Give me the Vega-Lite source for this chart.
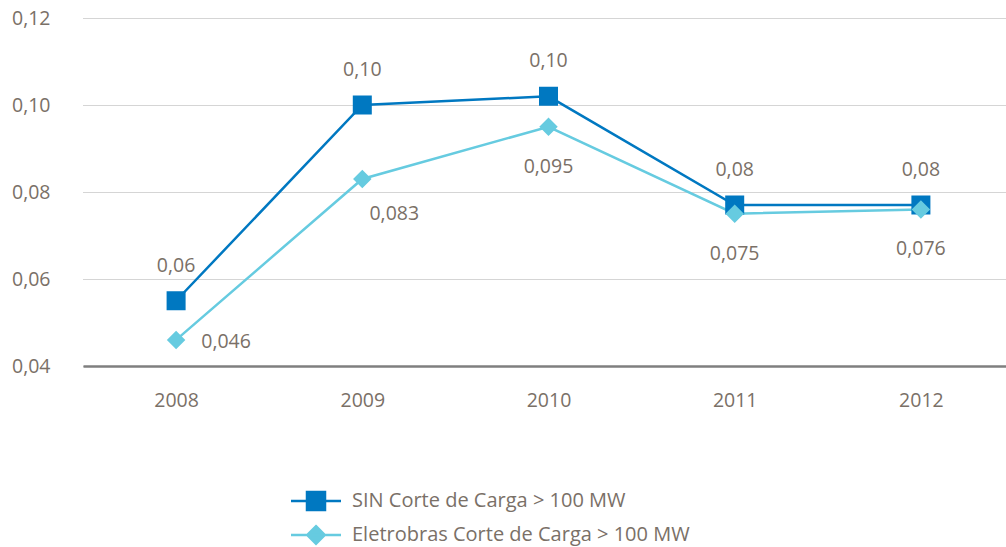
{
  "$schema": "https://vega.github.io/schema/vega-lite/v6.json",
  "width": 923,
  "height": 348,
  "autosize": "none",
  "padding": {"left": 83, "top": 18, "right": 0, "bottom": 181},
  "background": "white",
  "config": {
    "locale": {"number": {"decimal": ",", "thousands": ".", "grouping": [3], "currency": ["R$", ""]}},
    "view": {"stroke": null},
    "font": "Open Sans",
    "text": {"font": "Open Sans", "fontSize": 19.5, "color": "#7a7067"}
  },
  "data": {
    "values": [
      {"ano": "2008", "serie": "SIN Corte de Carga > 100 MW", "valor": 0.055, "rotulo": "0,06"},
      {"ano": "2009", "serie": "SIN Corte de Carga > 100 MW", "valor": 0.100, "rotulo": "0,10"},
      {"ano": "2010", "serie": "SIN Corte de Carga > 100 MW", "valor": 0.102, "rotulo": "0,10"},
      {"ano": "2011", "serie": "SIN Corte de Carga > 100 MW", "valor": 0.077, "rotulo": "0,08"},
      {"ano": "2012", "serie": "SIN Corte de Carga > 100 MW", "valor": 0.077, "rotulo": "0,08"},
      {"ano": "2008", "serie": "Eletrobras Corte de Carga > 100 MW", "valor": 0.046, "rotulo": "0,046"},
      {"ano": "2009", "serie": "Eletrobras Corte de Carga > 100 MW", "valor": 0.083, "rotulo": "0,083"},
      {"ano": "2010", "serie": "Eletrobras Corte de Carga > 100 MW", "valor": 0.095, "rotulo": "0,095"},
      {"ano": "2011", "serie": "Eletrobras Corte de Carga > 100 MW", "valor": 0.075, "rotulo": "0,075"},
      {"ano": "2012", "serie": "Eletrobras Corte de Carga > 100 MW", "valor": 0.076, "rotulo": "0,076"}
    ]
  },
  "encoding": {
    "x": {
      "field": "ano", "type": "ordinal",
      "scale": {"type": "point", "padding": 0.5, "range": [0, 931]},
      "axis": {
        "title": null, "labelAngle": 0, "ticks": false, "grid": false,
        "domain": true, "domainColor": "#7f7f7f", "domainWidth": 2.5,
        "labelFont": "Open Sans", "labelFontSize": 19.5, "labelColor": "#7a7067",
        "labelPadding": 25
      }
    },
    "y": {
      "field": "valor", "type": "quantitative",
      "scale": {"domain": [0.04, 0.12], "nice": false, "zero": false},
      "axis": {
        "title": null, "values": [0.04, 0.06, 0.08, 0.1, 0.12], "format": ".2f",
        "ticks": false, "domain": false,
        "grid": true, "gridColor": "#ababab", "gridDash": [1, 1], "gridWidth": 1,
        "labelFont": "Open Sans", "labelFontSize": 19.5, "labelColor": "#7a7067",
        "labelPadding": 33
      }
    }
  },
  "layer": [
    {
      "mark": {"type": "line", "strokeWidth": 2.5},
      "encoding": {
        "color": {
          "field": "serie", "type": "nominal",
          "scale": {"domain": ["SIN Corte de Carga > 100 MW", "Eletrobras Corte de Carga > 100 MW"], "range": ["#0078c1", "#66cbe0"]}
        }
      }
    },
    {
      "mark": {"type": "point", "filled": true, "opacity": 1, "size": 697, "strokeWidth": 0},
      "encoding": {
        "color": {
          "field": "serie", "type": "nominal",
          "scale": {"domain": ["SIN Corte de Carga > 100 MW", "Eletrobras Corte de Carga > 100 MW"], "range": ["#0078c1", "#66cbe0"]},
          "legend": {
            "title": null, "orient": "none", "legendX": 219, "legendY": 469,
            "symbolSize": 625, "labelOffset": 22, "rowPadding": 6, "labelLimit": 600,
            "labelFont": "Open Sans", "labelFontSize": 20, "labelColor": "#7a7067",
            "symbolStrokeWidth": 2.5,
            "encode": {"symbols": {"update": {"stroke": {"scale": "color", "field": "value"}, "strokeWidth": {"value": 2.5}, "fill": {"scale": "color", "field": "value"}, "opacity": {"value": 1}}}}
          }
        },
        "shape": {
          "field": "serie", "type": "nominal",
          "scale": {"domain": ["SIN Corte de Carga > 100 MW", "Eletrobras Corte de Carga > 100 MW"], "range": ["M-2,0H2M-0.72,-0.72H0.72V0.72H-0.72Z", "M-2,0H2M0,-0.7L0.7,0L0,0.7L-0.7,0Z"]},
          "legend": {
            "title": null, "orient": "none", "legendX": 219, "legendY": 469,
            "symbolSize": 625, "labelOffset": 22, "rowPadding": 6, "labelLimit": 600,
            "labelFont": "Open Sans", "labelFontSize": 20, "labelColor": "#7a7067"
          }
        }
      }
    },
    {
      "transform": [{"filter": "datum.serie == 'SIN Corte de Carga > 100 MW'"}],
      "mark": {"type": "text", "dy": -35},
      "encoding": {"text": {"field": "rotulo"}}
    },
    {
      "transform": [{"filter": "datum.serie == 'Eletrobras Corte de Carga > 100 MW' && datum.ano != '2008' && datum.ano != '2009'"}],
      "mark": {"type": "text", "dy": 40},
      "encoding": {"text": {"field": "rotulo"}}
    },
    {
      "transform": [{"filter": "datum.serie == 'Eletrobras Corte de Carga > 100 MW' && datum.ano == '2009'"}],
      "mark": {"type": "text", "dy": 35, "dx": 32},
      "encoding": {"text": {"field": "rotulo"}}
    },
    {
      "transform": [{"filter": "datum.serie == 'Eletrobras Corte de Carga > 100 MW' && datum.ano == '2008'"}],
      "mark": {"type": "text", "dy": 2, "dx": 50},
      "encoding": {"text": {"field": "rotulo"}}
    }
  ]
}
